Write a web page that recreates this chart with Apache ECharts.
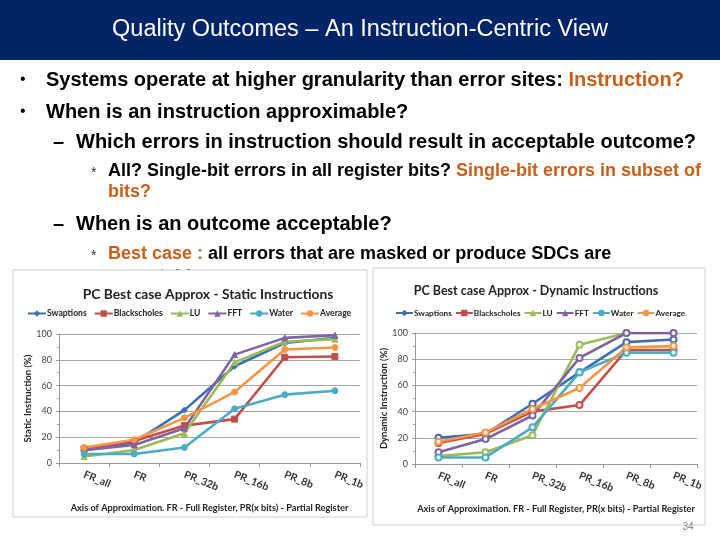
<!DOCTYPE html>
<html><head><meta charset="utf-8">
<script src="https://cdn.jsdelivr.net/npm/echarts@6/dist/echarts.min.js"></script>
<style>html,body{margin:0;padding:0;background:#fff}#c{width:720px;height:540px}</style>
</head><body><div id="c"></div>
<script>
const categories = ['FR_all','FR','PR_32b','PR_16b','PR_8b','PR_1b'];
const seriesNames = ['Swaptions','Blackscholes','LU','FFT','Water','Average'];
const colors = ['#3f6fb0','#c0504d','#9bbb59','#8064a2','#4bacc6','#f79646'];
const staticSwaptions    = [10, 16, 41, 75, 93, 97];
const staticBlackscholes = [11, 17, 29, 34, 82, 82.5];
const staticLU           = [5, 10, 23, 78, 94, 96];
const staticFFT          = [10, 14, 27, 84, 97, 99];
const staticWater        = [7, 7, 12, 42, 53, 56];
const staticAverage      = [12, 18, 35, 55, 88, 89.5];
const dynSwaptions    = [20, 23, 46, 70, 93, 95];
const dynBlackscholes = [16, 23, 40, 45, 87, 87];
const dynLU           = [6, 9, 22, 91, 100, 100];
const dynFFT          = [9, 19, 37, 81, 100, 100];
const dynWater        = [5, 5, 28, 70, 85, 85];
const dynAverage      = [17, 24, 42, 58, 89, 90];
const yTicks = [0, 20, 40, 60, 80, 100];

const staticData = [staticSwaptions, staticBlackscholes, staticLU, staticFFT, staticWater, staticAverage];
const dynData = [dynSwaptions, dynBlackscholes, dynLU, dynFFT, dynWater, dynAverage];
const staticSymbols = ['diamond','rect','triangle','triangle','circle','circle'];

const FONT = 'Lato';
const orange = '#c8601c';

function mkX(gridIndex){
  return {type:'category', gridIndex, data:categories, boundaryGap:true,
    axisLine:{lineStyle:{color:'#9a9a9a', width:1}},
    axisTick:{show:true, length:4, lineStyle:{color:'#9a9a9a'}},
    axisLabel:{rotate:-22, margin:11, fontFamily:FONT, fontWeight:'bold', fontSize:10.5, color:'#333'},
    name:'Axis of Approximation. FR - Full Register, PR(x bits) - Partial Register',
    nameLocation:'middle', nameGap:41,
    nameTextStyle:{fontFamily:FONT, fontWeight:'bold', fontSize:9.2, color:'#222'}};
}
function mkY(gridIndex, name, gap){
  return {type:'value', gridIndex, min:0, max:100, interval:20,
    axisLine:{show:true, lineStyle:{color:'#9a9a9a'}},
    axisTick:{show:true, length:3, lineStyle:{color:'#9a9a9a'}},
    minorTick:{show:true, splitNumber:2, length:2, lineStyle:{color:'#9a9a9a'}},
    splitLine:{lineStyle:{color:'#a6a6a6', width:1}},
    axisLabel:{fontFamily:FONT, fontSize:9, color:'#444', margin:7,
      formatter:v=> yTicks.includes(v) ? String(v) : ''},
    name, nameLocation:'middle', nameGap:gap,
    nameTextStyle:{fontFamily:FONT, fontWeight:'bold', fontSize:9.5, color:'#222'}};
}

const series = [];
seriesNames.forEach((n,i)=>{
  series.push({name:n, type:'line', xAxisIndex:0, yAxisIndex:0, data:staticData[i],
    symbol:staticSymbols[i], symbolSize:6, showAllSymbol:true,
    lineStyle:{width:2.6, color:colors[i]}, itemStyle:{color:colors[i], borderColor:colors[i]}});
});
seriesNames.forEach((n,i)=>{
  series.push({name:n, type:'line', xAxisIndex:1, yAxisIndex:1, data:dynData[i],
    symbol:'emptyCircle', symbolSize:6, showAllSymbol:true,
    lineStyle:{width:2.6, color:colors[i]}, itemStyle:{color:colors[i], borderColor:colors[i], borderWidth:1.5}});
});

const BF = 'Liberation Sans';
const bodyRich = {
  b:{fontFamily:BF, fontWeight:'bold', fontSize:20, fill:'#000'},
  o:{fontFamily:BF, fontWeight:'bold', fontSize:20, fill:orange},
  s:{fontFamily:BF, fontWeight:'bold', fontSize:18, fill:'#000'},
  so:{fontFamily:BF, fontWeight:'bold', fontSize:18, fill:orange}
};
function t(x, y, text){
  return {type:'text', x, y, style:{text, rich:bodyRich, verticalAlign:'middle'}};
}
function mark(x, y, ch, fs, col){
  return {type:'text', x, y, style:{text:ch, fill:col||'#000', fontFamily:BF, fontSize:fs, verticalAlign:'middle'}};
}

const graphic = [
  {type:'rect', shape:{x:0,y:0,width:720,height:60}, style:{fill:'#002466'}},
  {type:'text', x:360, y:30, style:{text:'Quality Outcomes – An Instruction-Centric View', fill:'#fff', fontFamily:BF, fontSize:23.5, align:'center', verticalAlign:'middle'}},
  mark(20, 80, '•', 16),
  t(46, 80, '{b|Systems operate at higher granularity than error sites: }{o|Instruction?}'),
  mark(20, 112, '•', 16),
  t(46, 112, '{b|When is an instruction approximable?}'),
  t(53, 142, '{b|–}'),
  t(76, 142, '{b|Which errors in instruction should result in acceptable outcome?}'),
  mark(91, 173, '*', 14, '#333'),
  t(108, 171, '{s|All? Single-bit errors in all register bits? }{so|Single-bit errors in subset of}'),
  t(108, 192, '{so|bits?}'),
  t(53, 224, '{b|–}'),
  t(76, 224, '{b|When is an outcome acceptable?}'),
  mark(91, 256, '*', 14, '#333'),
  t(108, 254, '{so|Best case : }{s|all errors that are masked or produce SDCs are}'),
  t(108, 277, '{s|acceptable}'),
  {type:'rect', shape:{x:13,y:270,width:354,height:247}, style:{fill:'#fff', stroke:'#cfcfcf', lineWidth:1}},
  {type:'rect', shape:{x:373,y:268,width:332,height:257}, style:{fill:'#fff', stroke:'#cfcfcf', lineWidth:1}},
  {type:'text', x:688, y:527, style:{text:'34', fill:'#8a8a8a', fontFamily:BF, fontSize:10, align:'center', verticalAlign:'middle'}}
];

const chart = echarts.init(document.getElementById('c'), null, {renderer:'canvas'});
chart.setOption({
  animation:false,
  backgroundColor:'#fff',
  graphic,
  title:[
    {text:'PC Best case Approx - Static Instructions', left:203, top:283, textAlign:'center',
      textStyle:{fontFamily:FONT, fontWeight:'bold', fontSize:13.8, color:'#222'}},
    {text:'PC Best case Approx - Dynamic Instructions', left:531, top:279, textAlign:'center',
      textStyle:{fontFamily:FONT, fontWeight:'bold', fontSize:12.5, color:'#222'}}
  ],
  legend:[
    {data:seriesNames, left:27, top:309, padding:0, itemWidth:18, itemHeight:8, itemGap:7,
      textStyle:{fontFamily:FONT, fontWeight:'bold', fontSize:8.6, color:'#222', padding:[0,0,0,-4]}},
    {data:seriesNames, left:395, top:309, padding:0, itemWidth:17, itemHeight:8, itemGap:3,
      textStyle:{fontFamily:FONT, fontWeight:'bold', fontSize:8.2, color:'#222', padding:[0,0,0,-4]}}
  ],
  grid:[
    {left:59, top:334, width:301, height:129},
    {left:415, top:333, width:282, height:131}
  ],
  xAxis:[mkX(0), mkX(1)],
  yAxis:[mkY(0,'Static Instruction (%)',23), mkY(1,'Dynamic Instruction (%)',21)],
  series
});
</script></body></html>
